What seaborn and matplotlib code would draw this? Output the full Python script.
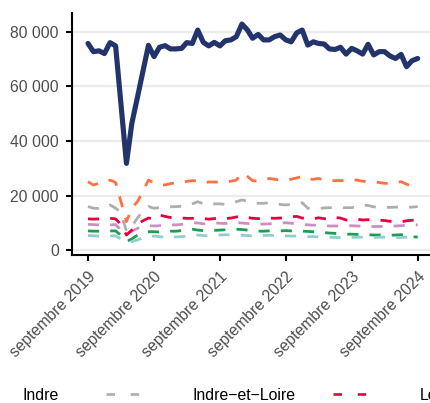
import matplotlib
matplotlib.use("Agg")
import matplotlib.pyplot as plt
import matplotlib.dates as mdates
import matplotlib.transforms as mtransforms
from matplotlib.lines import Line2D
import numpy as np
import pandas as pd
import seaborn as sns

# ---------------- data ----------------
months = pd.date_range("2019-09-01", periods=61, freq="MS")

region_name = "Centre−Val de Loire"
region = [75700, 72700, 73000, 72000, 76000, 74800, 54000, 31800, 46500, 56000,
          65400, 75000, 70900, 74300, 74900, 73700, 73700, 73900, 76000, 75700,
          80600, 76100, 74800, 76100, 74800, 76700, 77000, 78200, 82800, 80600,
          77600, 79000, 77000, 77000, 78200, 78800, 77000, 76300, 79600, 80600,
          75100, 76300, 75700, 75500, 73700, 73500, 74300, 71800, 73900, 73000,
          71800, 75400, 71500, 72700, 72700, 71100, 70200, 71700, 67200, 69400,
          70200]

cher = [7100, 7000, 7000, 7000, 7100, 7100, 5500, 3200, 4200, 5500,
        6500, 6800, 6800, 6700, 6900, 7000, 7000, 7200, 7500, 7700,
        7400, 7200, 7200, 7300, 7400, 7500, 7600, 7700, 7600, 7400,
        7200, 7000, 7000, 7100, 7200, 7100, 7200, 7100, 7000, 7000,
        6900, 6800, 6700, 6500, 6300, 6200, 6000, 5900, 5900, 5800,
        5700, 5700, 5600, 5600, 5500, 5500, 5600, 5700, 5800, 5000,
        4800]

eure_et_loir = [9500, 9400, 9300, 9300, 9300, 9400, 7500, 6200, 7000, 8000,
                8900, 9000, 8900, 9000, 9200, 9300, 9300, 9500, 9800, 10100,
                10000, 9700, 9800, 10000, 9900, 9800, 10100, 10100, 10000, 9800,
                9700, 9600, 9600, 9700, 9800, 9900, 10100, 9900, 9700, 9500,
                9300, 9200, 9200, 9000, 8900, 8900, 8900, 9000, 9000, 8900,
                8800, 8700, 8700, 8700, 8800, 8900, 8900, 9000, 9200, 9400,
                9300]

indre = [5400, 5300, 5200, 5200, 5300, 5300, 4200, 3000, 3200, 3800,
         4600, 5200, 5200, 5000, 4800, 4800, 4900, 5000, 5200, 5500,
         5600, 5400, 5300, 5400, 5600, 5700, 5600, 5600, 5500, 5400,
         5300, 5300, 5400, 5500, 5400, 5300, 5300, 5200, 5200, 5100,
         5000, 5000, 4900, 4800, 4800, 4700, 4600, 4600, 4700, 4800,
         4800, 4700, 4700, 4800, 4800, 4800, 4700, 4700, 4800, 4600,
         4500]

indre_et_loire = [16000, 15400, 15300, 15500, 16600, 15400, 14000, 7000, 8800, 11800,
                  14400, 16000, 15400, 15600, 15700, 15900, 16000, 16100, 16300, 17000,
                  17800, 17000, 16800, 17000, 17000, 16800, 17200, 17800, 18400, 18000,
                  17400, 17200, 17200, 17400, 17000, 16800, 16600, 16800, 17000, 17400,
                  15400, 15200, 15300, 15500, 15600, 15500, 15500, 15600, 15600, 16000,
                  16500, 16400, 15900, 15800, 15800, 15700, 15800, 15800, 15700, 15800,
                  16000]

loir_et_cher = [11500, 11400, 11500, 11600, 11700, 11500, 9500, 5600, 7400, 9500,
                10800, 11800, 11500, 12900, 12400, 12000, 12000, 11800, 11700, 11700,
                11500, 11600, 11400, 11600, 11700, 11600, 11800, 12200, 12600, 12000,
                11700, 11600, 11600, 11800, 11700, 11800, 12000, 12300, 12400, 11800,
                11700, 11500, 11900, 11600, 11300, 12000, 11800, 11100, 11000, 11400,
                11100, 11200, 11000, 11000, 10900, 10600, 10500, 10400, 10800, 11000,
                11100]

loiret = [25100, 23900, 24500, 24600, 25700, 24800, 18000, 10500, 15400, 17800,
          21500, 25700, 24600, 24100, 23900, 24400, 24700, 25000, 25200, 25500,
          25300, 24700, 25000, 25000, 25000, 25000, 25300, 25700, 28200, 27000,
          25500, 25300, 25700, 26300, 26000, 25700, 25700, 26000, 26500, 27000,
          26000, 26000, 26300, 25700, 25500, 25500, 25500, 25500, 25700, 25700,
          25300, 25100, 25100, 24800, 24500, 24500, 24800, 25100, 24200, 23500,
          23900]

departments = ["Cher", "Eure−et−Loir", "Indre", "Indre−et−Loire",
               "Loir−et−Cher", "Loiret"]
dept_values = [cher, eure_et_loir, indre, indre_et_loire, loir_et_cher, loiret]

tick_dates = ["2019-09-01", "2020-09-01", "2021-09-01",
              "2022-09-01", "2023-09-01", "2024-09-01"]
tick_labels = ["septembre 2019", "septembre 2020", "septembre 2021",
               "septembre 2022", "septembre 2023", "septembre 2024"]
y_ticks = [0, 20000, 40000, 60000, 80000]
y_labels = ["0", "20 000", "40 000", "60 000", "80 000"]

# ---------------- style ----------------
palette = {
    "Cher": "#1A9E50",
    "Eure−et−Loir": "#CC8FBF",
    "Indre": "#8FCFCF",
    "Indre−et−Loire": "#AEAEAE",
    "Loir−et−Cher": "#E8003D",
    "Loiret": "#FF7043",
}
navy = "#22346B"

sns.set_theme(style="white")
plt.rcParams["font.family"] = ["Liberation Sans", "DejaVu Sans"]

W, H = 431, 403
fig = plt.figure(figsize=(W / 100, H / 100), dpi=100)
fig.patch.set_facecolor("white")
ax = fig.add_axes([72 / W, 1 - 255 / H, (W - 72) / W, (255 - 12.7) / H])

df = pd.DataFrame({
    "date": np.tile(months, len(departments)),
    "dept": np.repeat(departments, len(months)),
    "value": np.concatenate([np.asarray(v, dtype=float) for v in dept_values]),
})
df_region = pd.DataFrame({"date": months, "value": region})

sns.lineplot(data=df, x="date", y="value", hue="dept", style="dept",
             palette=palette, dashes={d: (4, 4) for d in departments},
             linewidth=2.0, legend=False, ax=ax, zorder=3)
sns.lineplot(data=df_region, x="date", y="value", color=navy,
             linewidth=3.7, legend=False, ax=ax, zorder=4)

# axis limits
d0 = mdates.date2num(pd.Timestamp("2019-09-01"))
d1 = mdates.date2num(pd.Timestamp("2024-09-01"))
ppd = (417.7 - 88.0) / (d1 - d0)
ax.set_xlim(d0 - (88.0 - 72) / ppd, d0 + (W - 88.0) / ppd)
ppv = 54.65 / 20000
ax.set_ylim(-(255 - 250.3) / ppv, (250.3 - 12.7) / ppv)

ax.set_yticks(y_ticks)
ax.set_yticklabels(y_labels)
ax.set_xticks([mdates.date2num(pd.Timestamp(t)) for t in tick_dates])
ax.set_xticklabels(tick_labels, rotation=45, ha="right", va="top",
                   rotation_mode="anchor")
shift = mtransforms.ScaledTranslation(2 / 100, 0, fig.dpi_scale_trans)
for lab in ax.get_xticklabels():
    lab.set_transform(lab.get_transform() + shift)
ax.set_xlabel("")
ax.set_ylabel("")

ax.grid(axis="y", color="#EBEBEB", linewidth=1.6, zorder=0)
ax.grid(axis="x", visible=False)
ax.set_axisbelow(True)
for s in ["top", "right"]:
    ax.spines[s].set_visible(False)
for s in ["left", "bottom"]:
    ax.spines[s].set_color("black")
    ax.spines[s].set_linewidth(1.5)
ax.tick_params(axis="both", which="major", length=4.5, width=1.5,
               color="black", labelcolor="#4D4D4D", labelsize=11.3,
               left=True, bottom=True)
ax.tick_params(axis="y", pad=5.0)
ax.tick_params(axis="x", pad=5.5)

# ---------------- legend ----------------
handles = [Line2D([0], [0], color=navy, linewidth=3.0)]
labels = [region_name]
for d in departments:
    handles.append(Line2D([0], [0], color=palette[d], linewidth=1.9,
                          dashes=(3.2, 6.0)))
    labels.append(d)

split = labels.index("Indre−et−Loire")
yc = 7.5 / H
r = fig.canvas.get_renderer()


def place_legend(hs, ls, anchor_label, target_x, colsp):
    kw = dict(loc="center left", ncol=len(ls), frameon=False,
              fontsize=11.4, handlelength=2.08, handletextpad=3.4,
              columnspacing=colsp, borderaxespad=0, borderpad=0)
    lg = fig.legend(hs, ls, bbox_to_anchor=(0, yc), **kw)
    fig.canvas.draw()
    bb = [t for t in lg.get_texts() if t.get_text() == anchor_label][0] \
        .get_window_extent(fig.canvas.get_renderer())
    dx = target_x - bb.x0
    lg.remove()
    lg = fig.legend(hs, ls, bbox_to_anchor=(dx / W, yc), **kw)
    for t in lg.get_texts():
        t.set_color("black")
    return lg


leg1 = place_legend(handles[:split], labels[:split], "Indre", 22, 3.0)
leg2 = place_legend(handles[split:], labels[split:], "Indre−et−Loire", 193, 2.34)

fig.savefig("out.png", dpi=100, facecolor="white")
